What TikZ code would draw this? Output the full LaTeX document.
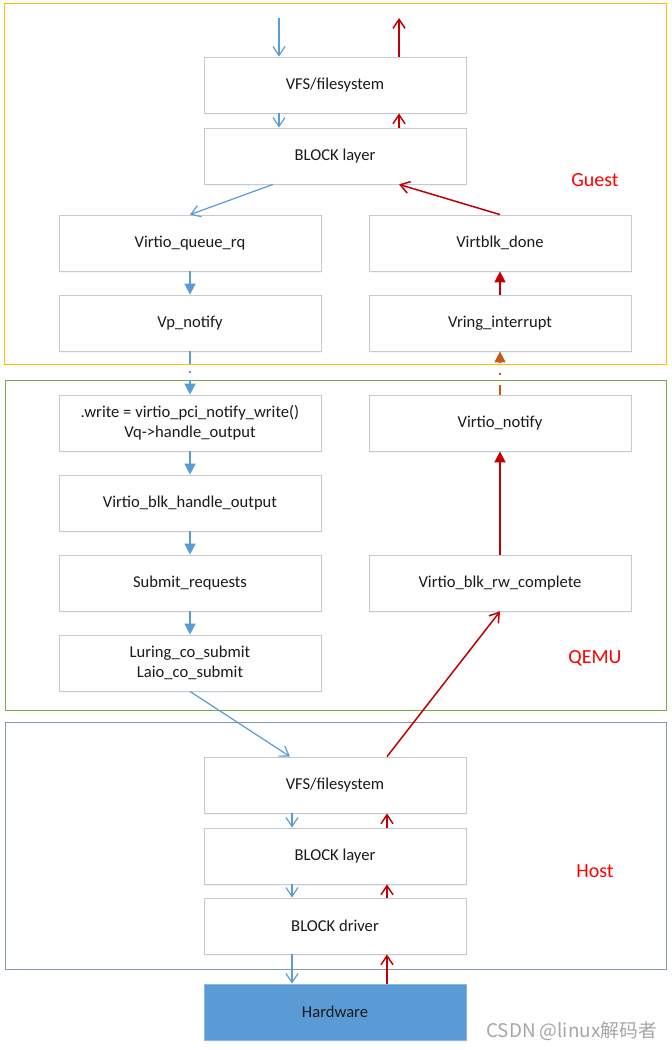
\documentclass[tikz,border=0pt]{standalone}
\usepackage{fontspec}
\setmainfont{Carlito}
\newfontfamily\cjk{Noto Sans CJK SC}
\usetikzlibrary{arrows.meta,shadows}
\definecolor{bl}{HTML}{5B9BD5}
\definecolor{rd}{HTML}{C00000}
\definecolor{og}{HTML}{C55A11}
\definecolor{lbl}{HTML}{FF0000}
\definecolor{boxgray}{HTML}{C5C9D0}
\definecolor{guestc}{HTML}{FFC000}
\definecolor{qemuc}{HTML}{70AD47}
\definecolor{hostc}{HTML}{8497B0}
\definecolor{txt}{HTML}{1A1A1A}
\definecolor{wm}{HTML}{A6A6A6}
\tikzset{
  stepbox/.style={draw=boxgray, fill=white, line width=0.8pt, minimum width=262pt, minimum height=56pt,
    inner sep=0pt, align=center, text=txt, font=\fontsize{16.6}{20}\selectfont,
    drop shadow={shadow xshift=1pt, shadow yshift=-1.5pt, fill=bl!15, opacity=0.6}},
  hwbox/.style={stepbox, fill=bl, draw=bl!70!white},
  frame/.style={line width=0.8pt},
  barbb/.style={draw=bl, line width=1.2pt, -{Straight Barb[length=9pt,width=12pt]}},
  barbr/.style={draw=rd, line width=1.5pt, -{Straight Barb[length=9pt,width=12pt]}},
  trib/.style={draw=bl, line width=1.6pt, -{Triangle[length=11pt,width=11pt]}},
  trir/.style={draw=rd, line width=1.6pt, -{Triangle[length=11pt,width=11pt]}},
  region/.style={text=lbl, font=\fontsize{20}{24}\selectfont},
}
\begin{document}
\begin{tikzpicture}[x=1pt,y=-1pt]
\useasboundingbox (0,0) rectangle (672,1050);
\fill[white] (0,0) rectangle (672,1050);
% frames
\draw[frame, draw=guestc] (4,3) rectangle (666,364);
\draw[frame, draw=qemuc] (5,380) rectangle (666,710);
\draw[frame, draw=hostc] (5,722) rectangle (666,969);
% boxes
\node[stepbox] (gvfs) at (335,85) {VFS/filesystem};
\node[stepbox] (gblk) at (335,156) {BLOCK layer};
\node[stepbox] (vqrq) at (190,243) {Virtio\_queue\_rq};
\node[stepbox] (vbd) at (500,243) {Virtblk\_done};
\node[stepbox] (vpn) at (190,323) {Vp\_notify};
\node[stepbox] (vri) at (500,323) {Vring\_interrupt};
\node[stepbox] (wr) at (190,423) {.write = virtio\_pci\_notify\_write()\\Vq->handle\_output};
\node[stepbox] (vn) at (500,423) {Virtio\_notify};
\node[stepbox] (vbho) at (190,503) {Virtio\_blk\_handle\_output};
\node[stepbox] (sr) at (190,583) {Submit\_requests};
\node[stepbox] (vbrc) at (500,583) {Virtio\_blk\_rw\_complete};
\node[stepbox] (lcs) at (190,663) {Luring\_co\_submit\\Laio\_co\_submit};
\node[stepbox] (hvfs) at (335,785) {VFS/filesystem};
\node[stepbox] (hblk) at (335,856) {BLOCK layer};
\node[stepbox] (hdrv) at (335,926) {BLOCK driver};
\node[hwbox] (hw) at (335,1012) {Hardware};
% region labels
\node[region] (lg) at (595,180) {Guest};
\node[region] (lq) at (595,658) {QEMU};
\node[region] (lh) at (595,871) {Host};
% watermark
\node[anchor=east, text=wm, inner sep=0pt, font=\cjk\fontsize{18.8}{22}\selectfont] (wmk) at (657,1031) {CSDN @linux解码者};
% guest arrows
\coordinate (tin) at (279,18);
\coordinate (tout) at (399,18);
\draw[barbb] (tin) -- (tin |- gvfs.north);
\draw[barbr] (tout |- gvfs.north) -- (tout);
\draw[barbb] ([xshift=-56pt]gvfs.south) -- ([xshift=-56pt]gblk.north);
\draw[barbr] ([xshift=64pt]gblk.north) -- ([xshift=64pt]gvfs.south);
\draw[barbb] ([xshift=-62pt]gblk.south) -- (vqrq.north);
\draw[barbr] (vbd.north) -- ([xshift=64pt]gblk.south);
\draw[trib] (vqrq) -- (vpn.north);
\draw[trir] (vri) -- (vbd.south);
% cross guest/qemu
\draw[trib, dash pattern=on 13pt off 7pt on 2pt off 7pt on 40pt] (vpn.south) -- (wr.north);
\draw[draw=og, line width=1.5pt, -{Triangle[length=11pt,width=11pt]}, dash pattern=on 10pt off 10pt on 2pt off 10pt on 40pt] (vn.north) -- (vri.south);
% qemu arrows
\draw[trib] (wr) -- (vbho.north);
\draw[trib] (vbho) -- (sr.north);
\draw[trib] (sr) -- (lcs.north);
\draw[trir] (vbrc) -- (vn.south);
% qemu/host
\draw[barbb] (lcs.south) -- ([xshift=-45pt]hvfs.north);
\draw[barbr] ([xshift=52pt]hvfs.north) -- (vbrc.south);
% host arrows
\draw[barbb] ([xshift=-43pt]hvfs.south) -- ([xshift=-43pt]hblk.north);
\draw[barbr] ([xshift=52pt]hblk.north) -- ([xshift=52pt]hvfs.south);
\draw[barbb] ([xshift=-43pt]hblk.south) -- ([xshift=-43pt]hdrv.north);
\draw[barbr] ([xshift=52pt]hdrv.north) -- ([xshift=52pt]hblk.south);
\draw[barbb] ([xshift=-43pt]hdrv.south) -- ([xshift=-43pt]hw.north);
\draw[barbr] ([xshift=52pt]hw.north) -- ([xshift=52pt]hdrv.south);
\end{tikzpicture}
\end{document}
